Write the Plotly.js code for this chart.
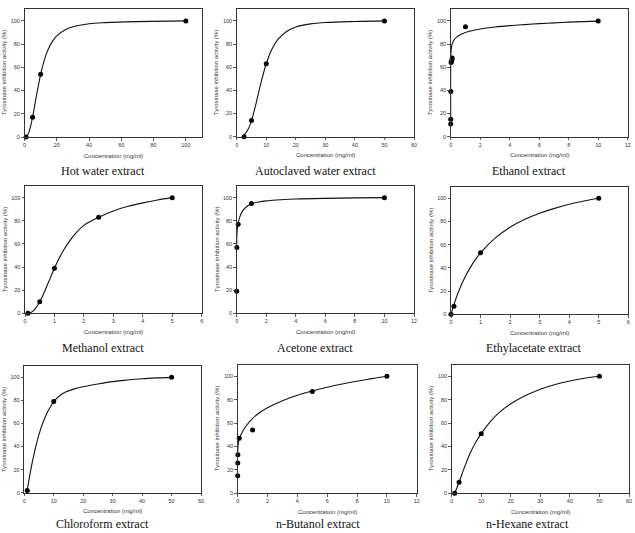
<!DOCTYPE html>
<html>
<head>
<meta charset="utf-8">
<script src="https://cdn.plot.ly/plotly-3.0.1.min.js"></script>
<style>
  html, body { margin: 0; padding: 0; background: #fff; }
  #chart { width: 635px; height: 533px; }
</style>
</head>
<body>
<div id="chart"></div>
<script>
// Tyrosinase inhibition activity (%) of each extract versus concentration (mg/ml)

const panelTitles = [
  "Hot water extract", "Autoclaved water extract", "Ethanol extract",
  "Methanol extract", "Acetone extract", "Ethylacetate extract",
  "Chloroform extract", "n-Butanol extract", "n-Hexane extract"
];
const xAxisMax = [110, 60, 12, 6, 12, 6, 60, 12, 60];
const xTickStep = [20, 10, 2, 1, 2, 1, 10, 2, 10];
const yTickValues = [0, 20, 40, 60, 80, 100];
const xAxisLabel = "Concentration (mg/ml)";
const yAxisLabel = "Tyrosinase inhibition activity (%)";

// Measured points
const hotWaterConc = [1, 5, 10, 100];
const hotWaterInhib = [0, 17, 54, 100];
const autoclavedConc = [2.5, 5, 10, 50];
const autoclavedInhib = [0, 14, 63, 100];
const ethanolConc = [0.001, 0.0025, 0.005, 0.025, 0.05, 0.075, 0.1, 1, 10];
const ethanolInhib = [11, 15, 39, 64, 65, 66, 68, 95, 100];
const methanolConc = [0.1, 0.5, 1, 2.5, 5];
const methanolInhib = [0, 10, 39, 83, 100];
const acetoneConc = [0.001, 0.01, 0.1, 1, 10];
const acetoneInhib = [19, 57, 77, 95, 100];
const ethylacetateConc = [0, 0.1, 1, 5];
const ethylacetateInhib = [0, 7, 53, 100];
const chloroformConc = [1, 10, 50];
const chloroformInhib = [2, 79, 100];
const butanolConc = [0.001, 0.005, 0.01, 0.1, 1, 5, 10];
const butanolInhib = [15, 26, 33, 47, 54, 87, 100];
const hexaneConc = [1, 2.5, 10, 50];
const hexaneInhib = [0, 9.5, 51, 100];

// Fitted curves
const hotWaterFitX = [1, 2, 3, 4, 5, 6, 7, 8, 10, 12, 14, 17, 20, 25, 30, 40, 50, 70, 100];
const hotWaterFitY = [0.4, 2, 5.4, 10.4, 17, 24.5, 32.4, 40.1, 54, 65, 73.3, 81.7, 87.1, 92.2, 94.9, 97.5, 98.5, 99.4, 100];
const autoclavedFitX = [2.5, 4, 5, 6, 7, 8, 10, 12, 14, 17, 20, 25, 30, 40, 50];
const autoclavedFitY = [1.2, 7.1, 14, 23.1, 33.7, 44.4, 63, 75.9, 84.2, 91.1, 94.7, 97.4, 98.6, 99.5, 100];
const ethanolFitX = [0, 0.005, 0.02, 0.05, 0.1, 0.2, 0.4, 0.7, 1, 1.5, 2, 3, 4, 5, 6, 7, 8, 9, 10];
const ethanolFitY = [10, 67, 73, 77, 80, 83, 86, 88.5, 90, 91.7, 93, 94.7, 95.9, 96.8, 97.6, 98.3, 98.9, 99.4, 99.8];
const methanolFitX = [0.15, 0.3, 0.5, 0.7, 0.85, 1, 1.25, 1.5, 1.75, 2, 2.5, 3, 3.5, 4, 4.5, 5];
const methanolFitY = [0, 2.5, 10, 21, 30, 39, 52, 62, 70, 76, 83, 88.5, 92.5, 95.5, 98, 100];
const acetoneFitX = [0, 0.01, 0.05, 0.1, 0.2, 0.35, 0.5, 0.75, 1, 1.5, 2, 3, 4, 6, 8, 10];
const acetoneFitY = [57, 68, 74, 78, 83, 87.5, 90, 93, 94.8, 96.3, 97.2, 98.2, 98.8, 99.4, 99.8, 100];
const ethylacetateFitX = [0, 0.1, 0.25, 0.5, 0.75, 1, 1.5, 2, 2.5, 3, 3.5, 4, 4.5, 5];
const ethylacetateFitY = [0, 8.4, 19.2, 33.4, 44.3, 53, 65.9, 75.1, 81.9, 87.1, 91.3, 94.8, 97.6, 100];
const chloroformFitX = [1, 2, 3, 4, 5, 6, 7, 8, 9, 10, 12, 14, 17, 20, 25, 30, 35, 40, 45, 50];
const chloroformFitY = [2, 17, 30, 41, 50.5, 58.5, 65, 70.5, 75, 79, 84, 87.2, 90, 91.8, 94.2, 96.3, 97.7, 98.8, 99.5, 100];
const butanolFitX = [0, 0.03, 0.1, 0.25, 0.5, 1, 1.5, 2, 3, 4, 5, 6, 7, 8, 9, 10];
const butanolFitY = [33, 42, 46.5, 51, 56.5, 64, 69.3, 73.2, 79.2, 83.8, 87.4, 90.6, 93.4, 95.8, 98, 100];
const hexaneFitX = [1, 2.5, 4, 6, 8, 10, 13, 16, 20, 25, 30, 35, 40, 45, 50];
const hexaneFitY = [0, 9.5, 20, 33, 43, 51, 61, 69, 76.5, 83.5, 89, 93, 96, 98.3, 100];

const pointSets = [
  [hotWaterConc, hotWaterInhib], [autoclavedConc, autoclavedInhib], [ethanolConc, ethanolInhib],
  [methanolConc, methanolInhib], [acetoneConc, acetoneInhib], [ethylacetateConc, ethylacetateInhib],
  [chloroformConc, chloroformInhib], [butanolConc, butanolInhib], [hexaneConc, hexaneInhib]
];
const fitSets = [
  [hotWaterFitX, hotWaterFitY], [autoclavedFitX, autoclavedFitY], [ethanolFitX, ethanolFitY],
  [methanolFitX, methanolFitY], [acetoneFitX, acetoneFitY], [ethylacetateFitX, ethylacetateFitY],
  [chloroformFitX, chloroformFitY], [butanolFitX, butanolFitY], [hexaneFitX, hexaneFitY]
];

// Plot-area boxes in pixels: [left, right, top, bottom]
const W = 635, H = 533;
const boxes = [
  [24.5, 202, 9.3, 137], [236.7, 414, 9.3, 136.7], [450.7, 627.7, 9.3, 136.7],
  [25, 201.7, 186.1, 313.3], [236.7, 414, 186.1, 313.3], [451, 628.3, 186.7, 314.3],
  [24.3, 201, 365.8, 492.7], [237.7, 416.7, 364.6, 493.3], [451.7, 629, 364.6, 493.3]
];
const titleCenterX = [103, 315, 529, 103, 315, 534, 102, 318, 527];
const titleCenterY = [171, 171, 171, 348, 348, 348, null, null, null];

const tickFont = { family: "Liberation Sans, Arial, sans-serif", size: 5.5, color: "#333" };
const labelFont = { family: "Liberation Sans, Arial, sans-serif", size: 6, color: "#333" };
const titleFont = { family: "Liberation Serif, Times New Roman, serif", size: 12, color: "#111" };

const traces = [];
const layout = {
  width: W, height: H,
  margin: { l: 0, r: 0, t: 0, b: 0 },
  paper_bgcolor: "#fff", plot_bgcolor: "#fff",
  showlegend: false,
  annotations: []
};

boxes.forEach((b, i) => {
  const k = i === 0 ? "" : String(i + 1);
  const [l, r, t, bt] = b;
  const xa = "xaxis" + k, ya = "yaxis" + k;
  const axisCommon = {
    showline: true, mirror: true, linecolor: "#333", linewidth: 1,
    ticks: "outside", ticklen: 2.5, tickwidth: 0.8, tickcolor: "#333",
    showgrid: false, zeroline: false, tickfont: tickFont, fixedrange: true
  };
  layout[xa] = Object.assign({}, axisCommon, {
    domain: [l / W, r / W], anchor: "y" + k,
    range: [0, xAxisMax[i]], tick0: 0, dtick: xTickStep[i]
  });
  layout[ya] = Object.assign({}, axisCommon, {
    domain: [(H - bt) / H, (H - t) / H], anchor: "x" + k,
    range: [0, 110], tickmode: "array", tickvals: yTickValues
  });

  traces.push({
    x: fitSets[i][0], y: fitSets[i][1],
    xaxis: "x" + k, yaxis: "y" + k,
    mode: "lines", line: { color: "#111", width: 1.1, shape: "spline", smoothing: 1 },
    hoverinfo: "skip"
  });
  traces.push({
    x: pointSets[i][0], y: pointSets[i][1],
    xaxis: "x" + k, yaxis: "y" + k,
    mode: "markers", marker: { color: "#000", size: 5 },
    cliponaxis: false
  });

  layout.annotations.push({
    text: xAxisLabel, font: labelFont, showarrow: false,
    xref: "paper", yref: "paper",
    x: ((l + r) / 2) / W, y: (H - (bt + 18.5)) / H,
    xanchor: "center", yanchor: "middle"
  });
  layout.annotations.push({
    text: yAxisLabel, font: labelFont, showarrow: false, textangle: -90,
    xref: "paper", yref: "paper",
    x: (l - 20.5) / W, y: (H - (t + bt) / 2) / H,
    xanchor: "center", yanchor: "middle"
  });
  const bottomRow = titleCenterY[i] === null;
  layout.annotations.push({
    text: panelTitles[i], font: titleFont, showarrow: false,
    xref: "paper", yref: "paper", borderpad: 0,
    x: titleCenterX[i] / W,
    y: bottomRow ? 0.001 : (H - titleCenterY[i]) / H,
    xanchor: "center", yanchor: bottomRow ? "bottom" : "middle"
  });
});

Plotly.newPlot("chart", traces, layout, { staticPlot: true, displayModeBar: false });
</script>
</body>
</html>
